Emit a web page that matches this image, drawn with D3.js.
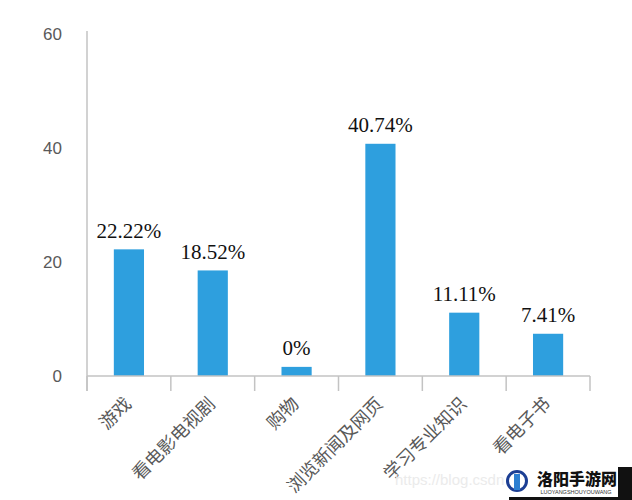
<!DOCTYPE html>
<html>
<head>
<meta charset="utf-8">
<script src="https://cdn.jsdelivr.net/npm/d3@7"></script>
<style>
  html, body { margin: 0; padding: 0; background: #fff; }
  svg { display: block; }
</style>
</head>
<body>
<svg id="chart" width="632" height="500"></svg>
<script>
const categories = ["游戏", "看电影电视剧", "购物", "浏览新闻及网页", "学习专业知识", "看电子书"];
const values = [22.22, 18.52, 1.6, 40.74, 11.11, 7.41];
const valueLabels = ["22.22%", "18.52%", "0%", "40.74%", "11.11%", "7.41%"];
const yTicks = [0, 20, 40, 60];

const svg = d3.select("#chart");
const axisColor = "#c3c3c3";
const textColor = "#595959";

const x = d3.scaleBand().domain(categories).range([87, 590]).paddingInner(0.64).paddingOuter(0.32);
const y = d3.scaleLinear().domain([0, 60]).range([376, 34]);

// y axis line
svg.append("line")
  .attr("x1", 87).attr("x2", 87)
  .attr("y1", y(60) - 3).attr("y2", y(0) + 15)
  .attr("stroke", axisColor).attr("stroke-width", 1.5);

// y tick labels
svg.append("g").selectAll("text").data(yTicks).join("text")
  .attr("x", 62).attr("y", d => y(d))
  .attr("dy", "0.36em")
  .attr("text-anchor", "end")
  .attr("font-family", "'Liberation Sans', Arial, sans-serif")
  .attr("font-size", 17)
  .attr("fill", textColor)
  .text(d => d);

// bars
svg.append("g").selectAll("rect").data(values).join("rect")
  .attr("x", (d, i) => x(categories[i]))
  .attr("width", x.bandwidth())
  .attr("y", d => y(d))
  .attr("height", d => y(0) - y(d))
  .attr("fill", "#2e9fde");

// x axis line
svg.append("line")
  .attr("x1", 87).attr("x2", 590)
  .attr("y1", y(0)).attr("y2", y(0))
  .attr("stroke", axisColor).attr("stroke-width", 1.5);

// x ticks at band boundaries
const step = x.step();
const gap = (step - x.bandwidth()) / 2;
const boundaries = categories.map(c => x(c) - gap);
boundaries.push(x(categories[categories.length - 1]) + x.bandwidth() + gap);
svg.append("g").selectAll("line").data(boundaries).join("line")
  .attr("x1", d => d).attr("x2", d => d)
  .attr("y1", y(0)).attr("y2", y(0) + 15)
  .attr("stroke", axisColor).attr("stroke-width", 1.5);

// value labels
svg.append("g").selectAll("text").data(values).join("text")
  .attr("x", (d, i) => x(categories[i]) + x.bandwidth() / 2)
  .attr("y", d => y(d) - 11.5)
  .attr("text-anchor", "middle")
  .attr("font-family", "'Liberation Serif', 'Times New Roman', serif")
  .attr("font-size", 21)
  .attr("fill", "#111")
  .text((d, i) => valueLabels[i]);

// category labels
svg.append("g").selectAll("text").data(categories).join("text")
  .attr("transform", d => `translate(${x(d) + x.bandwidth() / 2 - 1},${y(0) + 24.5}) rotate(-45)`)
  .attr("text-anchor", "end")
  .attr("dy", "0.35em")
  .attr("font-family", "'Noto Sans CJK SC', sans-serif")
  .attr("font-size", 18)
  .attr("fill", textColor)
  .text(d => d);

// faint watermark
svg.append("text")
  .attr("x", 395).attr("y", 485)
  .attr("font-family", "'Liberation Sans', Arial, sans-serif")
  .attr("font-size", 15)
  .attr("fill", "#ebebeb")
  .text("https://blog.csdn.n");

// logo badge
const logo = svg.append("g");
logo.append("rect").attr("x", 509).attr("y", 467).attr("width", 123).attr("height", 33).attr("fill", "#111");
logo.append("rect").attr("x", 505).attr("y", 464).attr("width", 113).attr("height", 33).attr("fill", "#fff");
logo.append("circle").attr("cx", 517).attr("cy", 481).attr("r", 9.5)
  .attr("fill", "#fff").attr("stroke", "#1c3f94").attr("stroke-width", 3);
logo.append("rect").attr("x", 514).attr("y", 474).attr("width", 6).attr("height", 16).attr("fill", "#2c7fd1");
logo.append("text")
  .attr("x", 577).attr("y", 485)
  .attr("text-anchor", "middle")
  .attr("font-family", "'Noto Sans CJK SC', sans-serif")
  .attr("font-weight", 900)
  .attr("font-size", 16)
  .attr("fill", "#111")
  .text("洛阳手游网");
logo.append("text")
  .attr("x", 576).attr("y", 494)
  .attr("text-anchor", "middle")
  .attr("font-family", "'Liberation Sans', Arial, sans-serif")
  .attr("font-size", 5.5)
  .attr("fill", "#333")
  .text("LUOYANGSHOUYOUWANG");
</script>
</body>
</html>
